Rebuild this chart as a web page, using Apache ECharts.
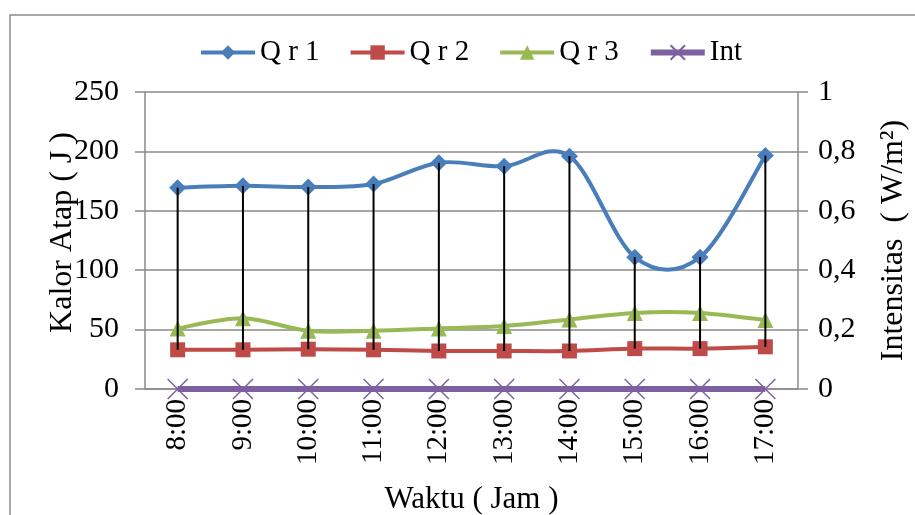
<!DOCTYPE html>
<html>
<head>
<meta charset="utf-8">
<script src="https://cdn.jsdelivr.net/npm/echarts@6/dist/echarts.min.js"></script>
<style>
  html, body { margin: 0; padding: 0; background: #fff; }
  #chart { width: 915px; height: 515px; }
</style>
</head>
<body>
<div id="chart"></div>
<script>
// Hourly roof heat (Q r 1..3, left axis) and radiation intensity (Int, right axis)
const hours = ['8:00', '9:00', '10:00', '11:00', '12:00', '13:00', '14:00', '15:00', '16:00', '17:00'];
const qr1 = [169.5, 171, 170, 172.5, 190.5, 187.5, 196, 111, 111, 196.5];
const qr2 = [33, 33, 33.5, 33, 32, 32, 32, 34, 34, 35.5];
const qr3 = [51, 59.5, 49, 49, 51, 53, 58.5, 64, 64, 58];
const intensity = [0, 0, 0, 0, 0, 0, 0, 0, 0, 0];
const leftTicks = { min: 0, max: 250, interval: 50 };
const rightTicks = { min: 0, max: 1, interval: 0.2 };

const FONT = "'Liberation Serif', 'Times New Roman', serif";
const GRID_COLOR = '#8a8a8a';
const C1 = '#4a7ebb', C2 = '#be4b48', C3 = '#98b954', C4 = '#7d60a0';

// high-low connectors between the top and bottom primary series
const hiLo = hours.map((h, i) => [i, qr2[i], qr1[i]]);

// Catmull-Rom style smoothed curve through the points, mapped by the axes
function curveSeries(name, values, color, axisIndex) {
  return {
    name: name,
    type: 'custom',
    yAxisIndex: axisIndex || 0,
    data: values.map((v, i) => [i, v]),
    silent: true,
    z: 2,
    renderItem: (params, api) => {
      const i = params.dataIndex;
      if (i >= values.length - 1) return null;
      const pt = k => {
        const kk = Math.max(0, Math.min(values.length - 1, k));
        return api.coord([kk, values[kk]]);
      };
      const p0 = pt(i - 1), p1 = pt(i), p2 = pt(i + 1), p3 = pt(i + 2);
      return {
        type: 'bezierCurve',
        shape: {
          x1: p1[0], y1: p1[1],
          cpx1: p1[0] + (p2[0] - p0[0]) / 6, cpy1: p1[1] + (p2[1] - p0[1]) / 6,
          cpx2: p2[0] - (p3[0] - p1[0]) / 6, cpy2: p2[1] - (p3[1] - p1[1]) / 6,
          x2: p2[0], y2: p2[1]
        },
        style: { stroke: color, lineWidth: 4, fill: 'none', lineCap: 'round' }
      };
    }
  };
}

function markerSeries(name, values, color, symbol, size) {
  return {
    name: name,
    type: 'line',
    data: values,
    symbol: symbol,
    symbolSize: size,
    showAllSymbol: true,
    lineStyle: { color: color, width: 4, opacity: 0 },
    itemStyle: { color: color },
    z: 3
  };
}

const legendItem = (name, color) => ({
  name: name,
  lineStyle: { color: color, width: 4, opacity: 1 }
});

const chart = echarts.init(document.getElementById('chart'));
chart.setOption({
  animation: false,
  textStyle: { fontFamily: FONT, color: '#000' },
  graphic: [{
    type: 'rect',
    shape: { x: 10, y: 15, width: 930, height: 530 },
    style: { fill: 'none', stroke: '#8c8c8c', lineWidth: 1.5 },
    silent: true
  }],
  legend: {
    left: 194,
    top: 33,
    itemWidth: 54,
    itemHeight: 18,
    itemGap: 29,
    textStyle: { fontFamily: FONT, fontSize: 29, color: '#000' },
    data: [legendItem('Q r 1', C1), legendItem('Q r 2', C2), legendItem('Q r 3', C3),
           { name: 'Int', lineStyle: { color: C4, width: 6, opacity: 1 } }]
  },
  grid: { left: 145, right: 117, top: 92, bottom: 126, containLabel: false, outerBoundsMode: 'none' },
  xAxis: {
    type: 'category',
    data: hours,
    boundaryGap: true,
    axisLine: { lineStyle: { color: GRID_COLOR, width: 1.5 } },
    axisTick: { show: false },
    axisLabel: { rotate: 90, margin: 10, fontFamily: FONT, fontSize: 29, color: '#000' },
    name: 'Waktu ( Jam )',
    nameLocation: 'middle',
    nameGap: 95,
    nameMoveOverlap: false,
    nameTextStyle: { fontFamily: FONT, fontSize: 31, color: '#000' }
  },
  yAxis: [{
    type: 'value',
    min: leftTicks.min,
    max: leftTicks.max,
    interval: leftTicks.interval,
    axisLine: { show: true, lineStyle: { color: GRID_COLOR, width: 1.5 } },
    axisTick: { show: true, inside: false, length: 10, lineStyle: { color: GRID_COLOR, width: 1.5 } },
    splitLine: { show: true, lineStyle: { color: GRID_COLOR, width: 1.5 } },
    axisLabel: { margin: 26, fontFamily: FONT, fontSize: 30, color: '#000' },
    name: 'Kalor Atap ( J )',
    nameLocation: 'middle',
    nameGap: 66,
    nameMoveOverlap: false,
    nameTextStyle: { fontFamily: FONT, fontSize: 32, color: '#000', padding: [0, 0, 0, 16] }
  }, {
    type: 'value',
    position: 'right',
    min: rightTicks.min,
    max: rightTicks.max,
    interval: rightTicks.interval,
    axisLine: { show: true, lineStyle: { color: GRID_COLOR, width: 1.5 } },
    axisTick: { show: true, inside: false, length: 10, lineStyle: { color: GRID_COLOR, width: 1.5 } },
    splitLine: { show: false },
    axisLabel: {
      margin: 20, fontFamily: FONT, fontSize: 30, color: '#000',
      formatter: v => String(Math.round(v * 10) / 10).replace('.', ',')
    },
    name: 'Intensitas  ( W/m²)',
    nameLocation: 'middle',
    nameGap: 80,
    nameMoveOverlap: false,
    nameTextStyle: { fontFamily: FONT, fontSize: 32, color: '#000' }
  }],
  series: [
    curveSeries('Q r 1 kurva', qr1, C1),
    curveSeries('Q r 2 kurva', qr2, C2),
    curveSeries('Q r 3 kurva', qr3, C3),
    markerSeries('Q r 1', qr1, C1, 'diamond', 17),
    markerSeries('Q r 2', qr2, C2, 'rect', 15),
    markerSeries('Q r 3', qr3, C3, 'triangle', 16),
    {
      name: 'Int',
      type: 'line',
      yAxisIndex: 1,
      data: intensity,
      symbol: 'path://M0,0L10,10M10,0L0,10',
      symbolSize: 20,
      lineStyle: { color: C4, width: 6 },
      itemStyle: { color: C4, borderColor: C4, borderWidth: 1.5 },
      z: 3
    },
    {
      name: 'hilo',
      type: 'custom',
      data: hiLo,
      silent: true,
      z: 5,
      renderItem: (params, api) => {
        const x = api.value(0);
        const top = api.coord([x, api.value(2)]);
        const bottom = api.coord([x, api.value(1)]);
        return {
          type: 'line',
          shape: { x1: top[0], y1: top[1], x2: bottom[0], y2: bottom[1] },
          style: { stroke: '#000', lineWidth: 2 }
        };
      }
    }
  ]
});
</script>
</body>
</html>
